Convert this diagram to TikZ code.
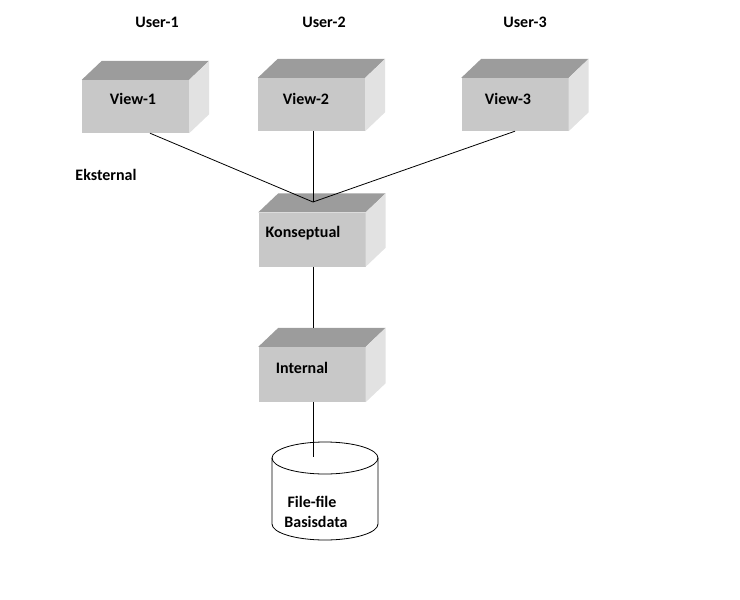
\documentclass[tikz,border=0pt]{standalone}
\usepackage{fontspec}
\setmainfont{Carlito}
\definecolor{frontc}{HTML}{C8C8C8}
\definecolor{topc}{HTML}{9C9C9C}
\definecolor{sidec}{HTML}{E2E2E2}
\tikzset{
  face/.style={fill=frontc, draw=none, minimum width=107pt, minimum height=53pt, inner sep=0pt},
  lbl/.style={font=\bfseries\fontsize{16}{18}\selectfont, text=black, inner sep=0pt},
  conn/.style={draw=black, line width=0.8pt},
}
\newcommand{\boxsides}[1]{%
  \fill[topc] (#1.north west) -- ++(20pt,19pt) -- ([shift={(20pt,19pt)}]#1.north east) -- (#1.north east) -- cycle;
  \fill[sidec] (#1.north east) -- ++(20pt,19pt) -- ([shift={(20pt,19pt)}]#1.south east) -- (#1.south east) -- cycle;
}
\begin{document}
\begin{tikzpicture}[x=1pt,y=-1pt]
\useasboundingbox (0,0) rectangle (740,600);
% labels
\node[lbl] (u1) at (157,22) {User-1};
\node[lbl] (u2) at (324,22) {User-2};
\node[lbl] (u3) at (525,22) {User-3};
\node[lbl] (ek) at (106,175) {Eksternal};
% boxes
\node[face] (v1) at (135.5,106.5) {};
\boxsides{v1}
\node[face] (v2) at (311.5,104.5) {};
\boxsides{v2}
\node[face] (v3) at (515,104.5) {};
\boxsides{v3}
\node[face, minimum height=54pt] (k) at (312,239.5) {};
\boxsides{k}
\node[face, minimum height=55pt] (in) at (312,374.5) {};
\boxsides{in}
\node[lbl] (v1t) at (133,99) {View-1};
\node[lbl] (v2t) at (306,99) {View-2};
\node[lbl] (v3t) at (508,99) {View-3};
\node[lbl] (kt) at (303,233) {Konseptual};
\node[lbl] (it) at (302,368) {Internal};
% cylinder
\filldraw[fill=white, draw=black, line width=0.8pt]
  (272,458) -- (272,524) arc[start angle=180, end angle=0, x radius=53, y radius=16]
  -- (378,458) arc[start angle=0, end angle=-180, x radius=53, y radius=16] -- cycle;
\draw[black, line width=0.8pt] (272,458) arc[start angle=180, end angle=0, x radius=53, y radius=16];
\node[lbl] (f1) at (312,502) {File-file};
\node[lbl] (f2) at (316,522) {Basisdata};
% connectors
\coordinate (j) at (313,202);
\draw[conn] ([xshift=14.5pt]v1.south) -- (j);
\draw[conn] ([xshift=1.5pt]v2.south) -- (j);
\draw[conn] (v3.south) -- (j);
\draw[conn] ([xshift=1pt]k.south) -- ([xshift=1pt,yshift=19pt]in.north);
\coordinate (dbl) at (313,457);
\draw[conn] ([xshift=1pt]in.south) -- (dbl);
\end{tikzpicture}
\end{document}
